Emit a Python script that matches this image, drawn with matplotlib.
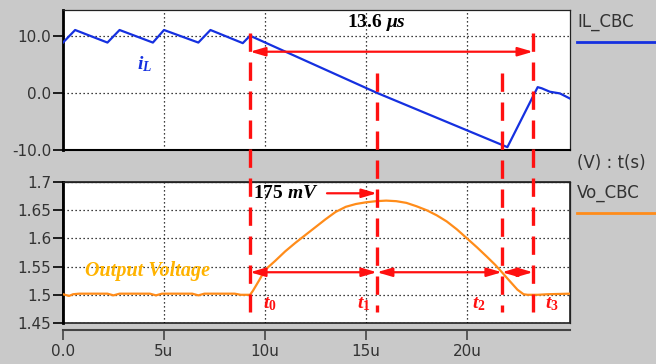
import matplotlib
matplotlib.use("Agg")
import matplotlib.pyplot as plt
import matplotlib.transforms as mtransforms
from matplotlib.lines import Line2D

plt.rcParams['mathtext.fontset'] = 'custom'
plt.rcParams['mathtext.rm'] = 'Liberation Serif:bold'
plt.rcParams['mathtext.it'] = 'Liberation Serif:italic:bold'
plt.rcParams['mathtext.bf'] = 'Liberation Serif:bold'
plt.rcParams['font.family'] = ['DejaVu Sans']

# ---- data ----
t_il = [0.0, 0.6, 2.2, 2.8, 4.45, 5.0, 6.7, 7.3, 8.9, 9.26, 15.54, 22.0, 23.5, 23.7, 24.1, 24.6, 25.1]
il = [8.8, 11.0, 8.8, 11.0, 8.8, 11.0, 8.8, 11.0, 8.7, 10.0, 0.0, -9.5, 1.0, 0.8, 0.2, -0.1, -1.0]

t_vo = [0.0, 0.3, 0.5, 0.8, 2.2, 2.5, 2.8, 4.3, 4.6, 4.9, 6.4, 6.7, 7.0, 8.5, 8.8, 9.26,
        9.4, 9.7, 10.0, 10.5, 11.0, 11.5, 12.0, 12.5, 13.0, 13.5, 14.0, 14.5, 15.0, 15.5,
        16.0, 16.5, 17.0, 17.5, 18.0, 18.5, 19.0, 19.5, 20.0, 20.5, 21.0, 21.4, 21.73,
        22.0, 22.2, 22.5, 22.8, 23.0, 23.5, 24.0, 25.1]
vo = [1.501, 1.498, 1.501, 1.502, 1.502, 1.499, 1.502, 1.502, 1.499, 1.502, 1.502, 1.499, 1.502,
      1.502, 1.500, 1.500,
      1.507, 1.525, 1.544, 1.560, 1.577, 1.592, 1.606, 1.620, 1.634, 1.647, 1.656, 1.661, 1.664, 1.666,
      1.667, 1.666, 1.663, 1.657, 1.650, 1.641, 1.630, 1.616, 1.600, 1.584, 1.567, 1.553, 1.540,
      1.529, 1.521, 1.509, 1.501, 1.500, 1.500, 1.501, 1.502]

t_marks = [9.26, 15.54, 21.73, 23.27]
t_labels = ['$t_0$', '$t_1$', '$t_2$', '$t_3$']
x_ticks = [0, 5, 10, 15, 20]
x_ticklabels = ['0.0', '5u', '10u', '15u', '20u']
y1_ticks = [-10, 0, 10]
y1_ticklabels = ['-10.0', '0.0', '10.0']
y2_ticks = [1.45, 1.5, 1.55, 1.6, 1.65, 1.7]
y2_ticklabels = ['1.45', '1.5', '1.55', '1.6', '1.65', '1.7']

BG = '#c9c9c9'
BLUE = '#1530e0'
ORANGE = '#ff8c1a'
RED = '#ff1010'
TXT = '#333333'

W, H = 656, 364
fig = plt.figure(figsize=(W / 100, H / 100), dpi=100, facecolor=BG)

def fx(px):
    return px / W

def fy(py):
    return 1 - py / H

ax1 = fig.add_axes([fx(63), fy(150), fx(570) - fx(63), fy(10) - fy(150)])
ax2 = fig.add_axes([fx(63), fy(323), fx(570) - fx(63), fy(182) - fy(323)])

grid_kw = dict(color='black', linestyle=(0, (1, 2.2)), linewidth=0.9)

# top panel
ax1.plot(t_il, il, color=BLUE, lw=1.6, zorder=3)
ax1.set_xlim(0, 25.1)
ax1.set_ylim(-10, 14.5)
ax1.set_xticks(x_ticks)
ax1.set_yticks(y1_ticks)
ax1.set_yticklabels(y1_ticklabels)
ax1.tick_params(axis='x', bottom=False, labelbottom=False)
ax1.tick_params(axis='y', length=7, width=1.2, pad=1.5, labelsize=11, labelcolor=TXT)
ax1.grid(True, **grid_kw)

# bottom panel
ax2.plot(t_vo, vo, color=ORANGE, lw=1.6, zorder=3)
ax2.set_xlim(0, 25.1)
ax2.set_ylim(1.45, 1.7)
ax2.set_xticks(x_ticks)
ax2.set_xticklabels(x_ticklabels)
ax2.set_yticks(y2_ticks)
ax2.set_yticklabels(y2_ticklabels)
ax2.tick_params(axis='y', length=7, width=1.2, pad=1.5, labelsize=11, labelcolor=TXT)
ax2.tick_params(axis='x', length=7, width=1.2, pad=3, labelsize=11, labelcolor=TXT, color='#444444')
ax2.grid(True, **grid_kw)

for ax in (ax1, ax2):
    ax.set_facecolor('white')
    for s in ('top', 'right'):
        ax.spines[s].set_color('#222222')
        ax.spines[s].set_linewidth(0.9)
    ax.spines['left'].set_color('black')
    ax.spines['left'].set_linewidth(2.0)
    ax.spines['bottom'].set_color('black')
    ax.spines['bottom'].set_linewidth(1.5)

ax2.spines['bottom'].set_position(('outward', 5))
ax2.spines['bottom'].set_color('#444444')
ax2.spines['bottom'].set_linewidth(1.5)
ax2.patch.set_edgecolor('#222222')
ax2.patch.set_linewidth(1.2)

# red dashed vertical markers spanning both panels
trans = mtransforms.blended_transform_factory(ax1.transData, fig.transFigure)
tops = [33, 73, 73, 33]
for t, top in zip(t_marks, tops):
    ln = Line2D([t, t], [fy(top), fy(312)], transform=trans, color=RED, lw=2.4,
                linestyle=(0, (5.5, 3.2)), zorder=5)
    fig.add_artist(ln)

arrow_kw = dict(arrowstyle='<|-|>,head_length=0.75,head_width=0.22', color=RED, lw=1.6,
                shrinkA=0, shrinkB=0, mutation_scale=12)
# 13.6 us arrow
ax1.annotate('', xy=(t_marks[3], 7.2), xytext=(t_marks[0], 7.2), arrowprops=arrow_kw, zorder=4)
ax1.text(14.06, 12.4, r'13.6 $\mu s$', fontfamily='Liberation Serif', fontweight='bold',
         fontsize=14, ha='left', va='center', color='black', zorder=6)
ax1.text(3.66, 5.1, r'$i_L$', fontsize=14, color=BLUE, ha='left', va='center')

# bottom arrows
for a, b in zip(t_marks[:-1], t_marks[1:]):
    ax2.annotate('', xy=(b, 1.54), xytext=(a, 1.54), arrowprops=arrow_kw, zorder=4)
ax2.annotate('', xy=(t_marks[1], 1.68), xytext=(13.07, 1.68),
             arrowprops=dict(arrowstyle='-|>,head_length=0.75,head_width=0.22', color=RED, lw=1.6,
                             shrinkA=0, shrinkB=0, mutation_scale=12), zorder=4)
ax2.text(9.4, 1.679, r'175 $mV$', fontfamily='Liberation Serif', fontweight='bold',
         fontsize=14, ha='left', va='center', color='black', zorder=6)
ax2.text(1.09, 1.542, 'Output Voltage', fontfamily='Liberation Serif', fontweight='bold',
         fontstyle='italic', fontsize=14.5, color='#ffb300', ha='left', va='center')

lab_x = [9.9, 14.55, 20.25, 23.86]
for x, lab in zip(lab_x, t_labels):
    ax2.text(x, 1.484, lab, fontsize=14, color=RED, ha='left', va='center', zorder=6)

# legend-like labels on the right
fig.text(fx(577), fy(22), 'IL_CBC', fontsize=12, color=TXT, ha='left', va='center')
fig.add_artist(Line2D([fx(577), fx(656)], [fy(42), fy(42)], color=BLUE, lw=2))
fig.text(fx(577), fy(163), '(V) : t(s)', fontsize=12, color=TXT, ha='left', va='center')
fig.text(fx(577), fy(193), 'Vo_CBC', fontsize=12, color=TXT, ha='left', va='center')
fig.add_artist(Line2D([fx(577), fx(656)], [fy(213), fy(213)], color=ORANGE, lw=2))

fig.savefig('out.png', dpi=100, facecolor=BG)
